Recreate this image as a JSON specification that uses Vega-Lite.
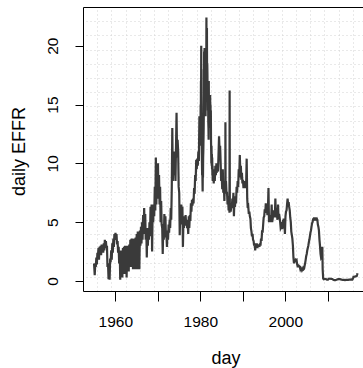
{
"$schema": "https://vega.github.io/schema/vega-lite/v6.json",
"width": 280, "height": 284,
"autosize": {"type": "none"},
"padding": {"left": 83, "top": 7, "right": 0, "bottom": 77},
"background": "white",
"config": {"view": {"stroke": null}},
"data": {"values": [
{"t":1955.00,"r":1.5},{"t":1955.16,"r":0.5},{"t":1955.29,"r":1.5},{"t":1955.41,"r":1.2},{"t":1955.54,"r":2.0},{"t":1955.66,"r":1.4},{"t":1955.79,"r":2.4},{"t":1955.91,"r":2.1},
{"t":1956.04,"r":2.8},{"t":1956.16,"r":1.8},{"t":1956.29,"r":2.9},{"t":1956.41,"r":2.3},{"t":1956.54,"r":3.0},{"t":1956.66,"r":2.2},{"t":1956.79,"r":3.1},{"t":1956.91,"r":2.6},
{"t":1957.04,"r":3.1},{"t":1957.16,"r":2.4},{"t":1957.29,"r":3.2},{"t":1957.41,"r":2.6},{"t":1957.54,"r":3.5},{"t":1957.66,"r":2.9},{"t":1957.79,"r":3.4},{"t":1957.91,"r":2.8},
{"t":1958.04,"r":3.0},{"t":1958.16,"r":1.2},{"t":1958.29,"r":1.5},{"t":1958.41,"r":0.15},{"t":1958.54,"r":1.2},{"t":1958.66,"r":0.1},{"t":1958.79,"r":1.9},{"t":1958.91,"r":1.6},
{"t":1959.04,"r":2.6},{"t":1959.16,"r":1.8},{"t":1959.29,"r":3.2},{"t":1959.41,"r":2.4},{"t":1959.54,"r":3.6},{"t":1959.66,"r":2.9},{"t":1959.79,"r":4.0},{"t":1959.91,"r":3.5},
{"t":1960.04,"r":4.1},{"t":1960.16,"r":3.5},{"t":1960.29,"r":4.0},{"t":1960.41,"r":3.1},{"t":1960.54,"r":3.4},{"t":1960.66,"r":2.4},{"t":1960.79,"r":2.9},{"t":1960.91,"r":1.5},
{"t":1961.04,"r":2.6},{"t":1961.16,"r":0.1},{"t":1961.29,"r":2.6},{"t":1961.41,"r":0.5},{"t":1961.54,"r":2.2},{"t":1961.66,"r":0.3},{"t":1961.79,"r":2.8},{"t":1961.91,"r":1.0},
{"t":1962.04,"r":2.9},{"t":1962.16,"r":0.6},{"t":1962.29,"r":3.0},{"t":1962.41,"r":1.2},{"t":1962.54,"r":3.0},{"t":1962.66,"r":0.3},{"t":1962.79,"r":3.0},{"t":1962.91,"r":1.5},
{"t":1963.04,"r":3.0},{"t":1963.16,"r":0.8},{"t":1963.29,"r":3.1},{"t":1963.41,"r":1.8},{"t":1963.54,"r":3.5},{"t":1963.66,"r":1.2},{"t":1963.79,"r":3.6},{"t":1963.91,"r":2.0},
{"t":1964.04,"r":3.6},{"t":1964.16,"r":1.0},{"t":1964.29,"r":3.6},{"t":1964.41,"r":2.2},{"t":1964.54,"r":3.6},{"t":1964.66,"r":1.0},{"t":1964.79,"r":3.7},{"t":1964.91,"r":2.4},
{"t":1965.04,"r":4.0},{"t":1965.16,"r":1.0},{"t":1965.29,"r":4.2},{"t":1965.41,"r":2.5},{"t":1965.54,"r":4.2},{"t":1965.66,"r":1.0},{"t":1965.79,"r":4.3},{"t":1965.91,"r":3.0},
{"t":1966.04,"r":4.6},{"t":1966.16,"r":3.2},{"t":1966.29,"r":5.0},{"t":1966.41,"r":3.5},{"t":1966.54,"r":5.6},{"t":1966.66,"r":4.0},{"t":1966.79,"r":6.2},{"t":1966.91,"r":4.5},
{"t":1967.04,"r":5.7},{"t":1967.16,"r":3.5},{"t":1967.29,"r":4.5},{"t":1967.41,"r":2.0},{"t":1967.54,"r":4.3},{"t":1967.66,"r":3.0},{"t":1967.79,"r":4.5},{"t":1967.91,"r":3.5},
{"t":1968.04,"r":5.0},{"t":1968.16,"r":3.8},{"t":1968.29,"r":6.3},{"t":1968.41,"r":4.5},{"t":1968.54,"r":6.5},{"t":1968.66,"r":2.5},{"t":1968.79,"r":6.3},{"t":1968.91,"r":5.0},
{"t":1969.04,"r":6.5},{"t":1969.16,"r":5.5},{"t":1969.29,"r":8.0},{"t":1969.41,"r":6.0},{"t":1969.54,"r":10.5},{"t":1969.66,"r":6.5},{"t":1969.79,"r":10.0},{"t":1969.91,"r":8.0},
{"t":1970.04,"r":10.0},{"t":1970.16,"r":7.0},{"t":1970.29,"r":9.0},{"t":1970.41,"r":6.5},{"t":1970.54,"r":8.0},{"t":1970.66,"r":5.0},{"t":1970.79,"r":6.8},{"t":1970.91,"r":4.8},
{"t":1971.04,"r":4.5},{"t":1971.16,"r":2.3},{"t":1971.29,"r":4.8},{"t":1971.41,"r":3.5},{"t":1971.54,"r":5.7},{"t":1971.66,"r":4.6},{"t":1971.79,"r":5.5},{"t":1971.91,"r":3.8},
{"t":1972.04,"r":3.8},{"t":1972.16,"r":2.9},{"t":1972.29,"r":4.3},{"t":1972.41,"r":3.5},{"t":1972.54,"r":4.8},{"t":1972.66,"r":4.1},{"t":1972.79,"r":5.2},{"t":1972.91,"r":4.5},
{"t":1973.04,"r":6.2},{"t":1973.16,"r":5.2},{"t":1973.29,"r":8.0},{"t":1973.41,"r":13.0},{"t":1973.54,"r":8.5},{"t":1973.66,"r":10.5},{"t":1973.79,"r":11.0},{"t":1973.91,"r":9.0},
{"t":1974.04,"r":10.0},{"t":1974.16,"r":8.5},{"t":1974.29,"r":11.5},{"t":1974.41,"r":14.3},{"t":1974.54,"r":10.5},{"t":1974.66,"r":12.0},{"t":1974.79,"r":11.0},{"t":1974.91,"r":8.0},
{"t":1975.04,"r":7.5},{"t":1975.16,"r":3.9},{"t":1975.29,"r":6.0},{"t":1975.41,"r":4.8},{"t":1975.54,"r":6.5},{"t":1975.66,"r":5.5},{"t":1975.79,"r":6.3},{"t":1975.91,"r":2.9},
{"t":1976.04,"r":5.3},{"t":1976.16,"r":4.5},{"t":1976.29,"r":5.5},{"t":1976.41,"r":4.7},{"t":1976.54,"r":5.6},{"t":1976.66,"r":4.9},{"t":1976.79,"r":5.2},{"t":1976.91,"r":4.5},
{"t":1977.04,"r":4.8},{"t":1977.16,"r":4.0},{"t":1977.29,"r":5.5},{"t":1977.41,"r":4.5},{"t":1977.54,"r":5.6},{"t":1977.66,"r":5.1},{"t":1977.79,"r":6.6},{"t":1977.91,"r":5.9},
{"t":1978.04,"r":6.9},{"t":1978.16,"r":6.4},{"t":1978.29,"r":7.0},{"t":1978.41,"r":6.6},{"t":1978.54,"r":7.9},{"t":1978.66,"r":7.4},{"t":1978.79,"r":9.0},{"t":1978.91,"r":8.5},
{"t":1979.04,"r":10.3},{"t":1979.16,"r":9.5},{"t":1979.29,"r":10.4},{"t":1979.41,"r":9.8},{"t":1979.54,"r":11.0},{"t":1979.66,"r":10.2},{"t":1979.79,"r":14.0},{"t":1979.91,"r":11.5},
{"t":1980.00,"r":14.0},{"t":1980.04,"r":12.5},{"t":1980.08,"r":15.0},{"t":1980.12,"r":13.0},{"t":1980.15,"r":17.0},{"t":1980.18,"r":15.5},{"t":1980.22,"r":20.0},{"t":1980.25,"r":16.5},{"t":1980.28,"r":18.0},{"t":1980.31,"r":13.0},{"t":1980.35,"r":11.0},{"t":1980.39,"r":10.0},{"t":1980.43,"r":9.0},{"t":1980.47,"r":10.0},{"t":1980.51,"r":8.5},{"t":1980.55,"r":7.6},{"t":1980.59,"r":9.5},{"t":1980.63,"r":8.8},{"t":1980.67,"r":10.5},{"t":1980.71,"r":11.0},{"t":1980.75,"r":12.0},{"t":1980.79,"r":13.0},{"t":1980.83,"r":14.5},{"t":1980.87,"r":16.0},{"t":1980.90,"r":19.5},{"t":1980.93,"r":17.0},{"t":1980.96,"r":19.0},
{"t":1981.00,"r":19.8},{"t":1981.04,"r":17.0},{"t":1981.08,"r":15.0},{"t":1981.12,"r":17.5},{"t":1981.16,"r":15.5},{"t":1981.20,"r":16.5},{"t":1981.24,"r":14.0},{"t":1981.28,"r":16.0},{"t":1981.32,"r":18.0},{"t":1981.36,"r":19.0},{"t":1981.40,"r":17.5},{"t":1981.44,"r":22.4},{"t":1981.47,"r":18.0},{"t":1981.50,"r":21.0},{"t":1981.53,"r":17.5},{"t":1981.56,"r":21.5},{"t":1981.60,"r":16.5},{"t":1981.64,"r":18.5},{"t":1981.68,"r":17.5},{"t":1981.72,"r":15.5},{"t":1981.76,"r":17.0},{"t":1981.80,"r":14.5},{"t":1981.84,"r":15.5},{"t":1981.88,"r":13.5},{"t":1981.92,"r":13.0},{"t":1981.96,"r":12.0},
{"t":1982.00,"r":17.0},{"t":1982.04,"r":13.0},{"t":1982.08,"r":14.5},{"t":1982.12,"r":13.5},{"t":1982.16,"r":15.5},{"t":1982.20,"r":14.0},{"t":1982.24,"r":15.5},{"t":1982.28,"r":14.0},{"t":1982.32,"r":15.8},{"t":1982.36,"r":13.5},{"t":1982.40,"r":15.0},{"t":1982.44,"r":13.5},{"t":1982.48,"r":14.5},{"t":1982.52,"r":12.0},{"t":1982.56,"r":11.0},{"t":1982.60,"r":10.0},{"t":1982.64,"r":11.5},{"t":1982.68,"r":9.8},{"t":1982.72,"r":10.8},{"t":1982.76,"r":9.5},{"t":1982.80,"r":10.5},{"t":1982.84,"r":9.0},{"t":1982.88,"r":9.8},{"t":1982.92,"r":8.5},{"t":1982.96,"r":9.0},
{"t":1983.04,"r":9.5},{"t":1983.16,"r":8.3},{"t":1983.29,"r":9.2},{"t":1983.41,"r":8.5},{"t":1983.54,"r":9.8},{"t":1983.66,"r":9.0},{"t":1983.79,"r":10.0},{"t":1983.91,"r":9.2},
{"t":1984.04,"r":9.8},{"t":1984.16,"r":9.3},{"t":1984.29,"r":10.8},{"t":1984.41,"r":12.3},{"t":1984.54,"r":11.0},{"t":1984.66,"r":11.5},{"t":1984.79,"r":10.0},{"t":1984.91,"r":8.5},
{"t":1985.04,"r":9.0},{"t":1985.16,"r":7.8},{"t":1985.29,"r":9.5},{"t":1985.41,"r":7.5},{"t":1985.54,"r":8.3},{"t":1985.66,"r":6.8},{"t":1985.79,"r":8.5},{"t":1985.88,"r":7.6},{"t":1985.91,"r":13.5},{"t":1985.95,"r":8.0},
{"t":1986.04,"r":8.5},{"t":1986.16,"r":7.5},{"t":1986.29,"r":7.5},{"t":1986.41,"r":6.5},{"t":1986.54,"r":7.2},{"t":1986.66,"r":6.0},{"t":1986.79,"r":6.5},{"t":1986.86,"r":5.8},{"t":1986.90,"r":16.2},{"t":1986.95,"r":6.5},
{"t":1987.04,"r":6.5},{"t":1987.16,"r":5.9},{"t":1987.29,"r":6.6},{"t":1987.41,"r":6.2},{"t":1987.54,"r":7.0},{"t":1987.66,"r":6.4},{"t":1987.79,"r":7.5},{"t":1987.91,"r":5.5},
{"t":1988.04,"r":7.0},{"t":1988.16,"r":6.3},{"t":1988.29,"r":7.2},{"t":1988.41,"r":6.6},{"t":1988.54,"r":8.0},{"t":1988.66,"r":7.5},{"t":1988.79,"r":8.5},{"t":1988.91,"r":8.0},
{"t":1989.04,"r":9.5},{"t":1989.16,"r":8.8},{"t":1989.29,"r":10.7},{"t":1989.41,"r":9.4},{"t":1989.54,"r":9.8},{"t":1989.66,"r":8.6},{"t":1989.79,"r":9.2},{"t":1989.91,"r":8.3},
{"t":1990.04,"r":8.6},{"t":1990.16,"r":7.9},{"t":1990.29,"r":8.5},{"t":1990.41,"r":8.0},{"t":1990.54,"r":8.5},{"t":1990.66,"r":7.9},{"t":1990.79,"r":8.3},{"t":1990.91,"r":10.4},
{"t":1991.04,"r":7.0},{"t":1991.16,"r":6.2},{"t":1991.29,"r":6.3},{"t":1991.41,"r":5.7},{"t":1991.54,"r":5.9},{"t":1991.66,"r":5.5},{"t":1991.79,"r":5.3},{"t":1991.91,"r":4.5},
{"t":1992.04,"r":4.2},{"t":1992.16,"r":3.8},{"t":1992.29,"r":4.0},{"t":1992.41,"r":3.5},{"t":1992.54,"r":3.4},{"t":1992.66,"r":3.0},{"t":1992.79,"r":3.2},{"t":1992.91,"r":2.6},
{"t":1993.04,"r":3.1},{"t":1993.16,"r":2.8},{"t":1993.29,"r":3.2},{"t":1993.41,"r":2.8},{"t":1993.54,"r":3.1},{"t":1993.66,"r":2.9},{"t":1993.79,"r":3.1},{"t":1993.91,"r":2.9},
{"t":1994.04,"r":3.2},{"t":1994.16,"r":3.0},{"t":1994.29,"r":3.6},{"t":1994.41,"r":3.4},{"t":1994.54,"r":4.3},{"t":1994.66,"r":4.1},{"t":1994.79,"r":4.8},{"t":1994.91,"r":5.4},
{"t":1995.04,"r":5.5},{"t":1995.16,"r":6.1},{"t":1995.29,"r":5.8},{"t":1995.41,"r":6.6},{"t":1995.54,"r":5.8},{"t":1995.66,"r":6.2},{"t":1995.79,"r":5.6},{"t":1995.91,"r":6.0},
{"t":1996.04,"r":7.9},{"t":1996.16,"r":5.0},{"t":1996.29,"r":5.5},{"t":1996.41,"r":5.0},{"t":1996.54,"r":5.6},{"t":1996.66,"r":5.1},{"t":1996.79,"r":6.5},{"t":1996.91,"r":5.0},
{"t":1997.04,"r":5.3},{"t":1997.16,"r":6.0},{"t":1997.29,"r":5.4},{"t":1997.41,"r":5.8},{"t":1997.54,"r":5.5},{"t":1997.66,"r":7.0},{"t":1997.79,"r":5.4},{"t":1997.91,"r":6.2},
{"t":1998.04,"r":5.6},{"t":1998.16,"r":5.2},{"t":1998.29,"r":6.5},{"t":1998.41,"r":5.3},{"t":1998.54,"r":5.7},{"t":1998.66,"r":5.4},{"t":1998.79,"r":5.0},{"t":1998.91,"r":4.5},
{"t":1999.04,"r":4.6},{"t":1999.16,"r":5.0},{"t":1999.29,"r":4.4},{"t":1999.41,"r":4.9},{"t":1999.54,"r":4.8},{"t":1999.66,"r":5.3},{"t":1999.79,"r":5.1},{"t":1999.91,"r":4.0},
{"t":2000.04,"r":5.5},{"t":2000.16,"r":5.9},{"t":2000.29,"r":6.0},{"t":2000.41,"r":6.5},{"t":2000.54,"r":7.0},{"t":2000.66,"r":6.5},{"t":2000.79,"r":6.7},{"t":2000.91,"r":6.3},
{"t":2001.04,"r":6.0},{"t":2001.16,"r":5.4},{"t":2001.29,"r":5.0},{"t":2001.41,"r":4.2},{"t":2001.54,"r":3.9},{"t":2001.66,"r":3.6},{"t":2001.79,"r":3.0},{"t":2001.91,"r":2.0},
{"t":2002.04,"r":1.5},{"t":2002.16,"r":1.8},{"t":2002.29,"r":1.75},{"t":2002.41,"r":1.8},{"t":2002.54,"r":1.7},{"t":2002.66,"r":1.75},{"t":2002.79,"r":1.4},{"t":2002.91,"r":1.25},
{"t":2003.04,"r":1.25},{"t":2003.16,"r":1.3},{"t":2003.29,"r":1.25},{"t":2003.41,"r":1.2},{"t":2003.54,"r":1.0},{"t":2003.66,"r":1.1},{"t":2003.79,"r":1.0},{"t":2003.91,"r":0.9},
{"t":2004.04,"r":1.0},{"t":2004.16,"r":1.1},{"t":2004.29,"r":1.0},{"t":2004.41,"r":1.05},{"t":2004.54,"r":1.3},{"t":2004.66,"r":1.5},{"t":2004.79,"r":1.8},{"t":2004.91,"r":2.1},
{"t":2005.04,"r":2.3},{"t":2005.16,"r":2.6},{"t":2005.29,"r":2.8},{"t":2005.41,"r":3.0},{"t":2005.54,"r":3.3},{"t":2005.66,"r":3.5},{"t":2005.79,"r":3.8},{"t":2005.91,"r":4.1},
{"t":2006.04,"r":4.3},{"t":2006.16,"r":4.6},{"t":2006.29,"r":4.9},{"t":2006.41,"r":5.0},{"t":2006.54,"r":5.25},{"t":2006.66,"r":5.3},{"t":2006.79,"r":5.25},{"t":2006.91,"r":5.3},
{"t":2007.04,"r":5.25},{"t":2007.16,"r":5.3},{"t":2007.29,"r":5.25},{"t":2007.41,"r":5.3},{"t":2007.54,"r":5.2},{"t":2007.66,"r":4.8},{"t":2007.79,"r":4.6},{"t":2007.91,"r":4.3},
{"t":2008.04,"r":3.5},{"t":2008.16,"r":3.0},{"t":2008.29,"r":2.3},{"t":2008.41,"r":2.0},{"t":2008.54,"r":2.1},{"t":2008.66,"r":1.9},{"t":2008.71,"r":2.9},{"t":2008.79,"r":1.0},{"t":2008.91,"r":0.2},
{"t":2009.04,"r":0.15},{"t":2009.29,"r":0.18},{"t":2009.54,"r":0.17},{"t":2009.79,"r":0.12},
{"t":2010.04,"r":0.12},{"t":2010.29,"r":0.2},{"t":2010.54,"r":0.19},{"t":2010.79,"r":0.18},
{"t":2011.04,"r":0.17},{"t":2011.29,"r":0.1},{"t":2011.54,"r":0.07},{"t":2011.79,"r":0.08},
{"t":2012.04,"r":0.1},{"t":2012.29,"r":0.14},{"t":2012.54,"r":0.16},{"t":2012.79,"r":0.16},
{"t":2013.04,"r":0.14},{"t":2013.29,"r":0.11},{"t":2013.54,"r":0.09},{"t":2013.79,"r":0.09},
{"t":2014.04,"r":0.07},{"t":2014.29,"r":0.09},{"t":2014.54,"r":0.09},{"t":2014.79,"r":0.09},
{"t":2015.04,"r":0.11},{"t":2015.29,"r":0.12},{"t":2015.54,"r":0.14},{"t":2015.79,"r":0.13},{"t":2015.96,"r":0.24},
{"t":2016.04,"r":0.36},{"t":2016.29,"r":0.37},{"t":2016.54,"r":0.39},{"t":2016.79,"r":0.41},{"t":2016.91,"r":0.55},{"t":2016.98,"r":0.66}
]},
"resolve": {"axis": {"x": "independent", "y": "independent"}},
"layer": [
{
"mark": {"type": "line", "opacity": 0, "clip": true},
"encoding": {
"x": {"field": "t", "type": "quantitative",
"scale": {"domain": [1952.4, 2018.28], "nice": false, "zero": false},
"axis": {"orient": "top", "values": [1955.74,1959.08,1962.42,1965.76,1969.10,1972.45,1975.79,1979.13,1982.47,1985.81,1989.15,1992.49,1995.83,1999.17,2002.51,2005.86,2009.20,2012.54,2015.88],
"grid": true, "gridColor": "#d3d3d3", "gridDash": [1, 3], "gridWidth": 1,
"ticks": false, "labels": false, "domain": true, "domainColor": "black", "domainWidth": 1, "title": null, "zindex": 0}},
"y": {"field": "r", "type": "quantitative",
"scale": {"domain": [-0.85, 23.29], "nice": false, "zero": false},
"axis": {"orient": "right", "values": [0.357,1.564,2.771,3.978,5.185,6.392,7.599,8.806,10.013,11.22,12.427,13.634,14.841,16.048,17.255,18.462,19.669,20.876,22.083],
"grid": true, "gridColor": "#d3d3d3", "gridDash": [1, 3], "gridWidth": 1,
"ticks": false, "labels": false, "domain": false, "title": null, "zindex": 0}}
}
},
{
"mark": {"type": "line", "color": "#3a3a3a", "strokeWidth": 2.2, "clip": true},
"encoding": {
"x": {"field": "t", "type": "quantitative",
"axis": {"orient": "bottom", "values": [1960,1970,1980,1990,2000,2010], "format": "d",
"labelExpr": "datum.value % 20 == 0 ? datum.label : ''",
"grid": false, "tickSize": 10, "tickColor": "black", "tickWidth": 1,
"domain": true, "domainColor": "black", "domainWidth": 1,
"labelFont": "Liberation Sans", "labelFontSize": 15.5, "labelColor": "black",
"labelBaseline": "alphabetic", "labelPadding": 25.7, "labelOverlap": false, "labelFlush": false,
"title": "day", "titleFont": "Liberation Sans", "titleFontSize": 18, "titleFontWeight": "normal", "titleColor": "black",
"titleX": 142.5, "titleY": 72, "titleBaseline": "alphabetic", "titleAlign": "center", "zindex": 1}},
"y": {"field": "r", "type": "quantitative",
"axis": {"orient": "left", "values": [0,5,10,15,20],
"grid": false, "tickSize": 8, "tickColor": "black", "tickWidth": 1,
"domain": true, "domainColor": "black", "domainWidth": 1,
"labelFont": "Liberation Sans", "labelFontSize": 15.5, "labelColor": "black",
"labelAngle": 270, "labelAlign": "center", "labelBaseline": "alphabetic", "labelPadding": 17.7, "labelOverlap": false, "labelFlush": false,
"title": "daily EFFR", "titleFont": "Liberation Sans", "titleFontSize": 18, "titleFontWeight": "normal", "titleColor": "black",
"titleAngle": 270, "titleX": -58.5, "titleY": 144, "titleAlign": "center", "titleBaseline": "alphabetic", "zindex": 1}}
}
}
]
}
